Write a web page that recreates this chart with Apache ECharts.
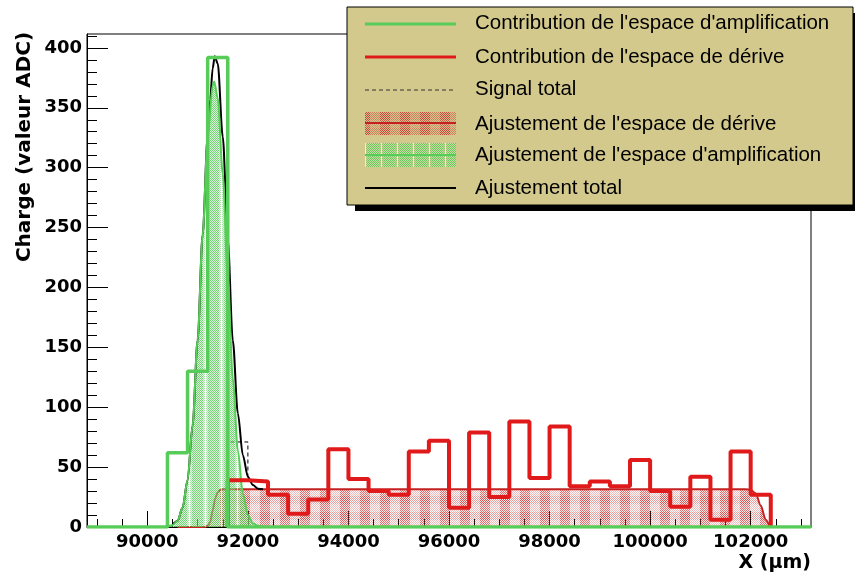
<!DOCTYPE html>
<html><head><meta charset="utf-8">
<script src="https://cdn.jsdelivr.net/npm/echarts@6/dist/echarts.min.js"></script>
<style>html,body{margin:0;padding:0;background:#fff}#c{width:855px;height:579px}</style>
</head><body><div id="c"></div><script>
// ---------- data ----------
const xRange = [88800, 103200];
const yRange = [0, 411.6];
const xTickLabels = [90000, 92000, 94000, 96000, 98000, 100000, 102000];
const yTickLabels = [0, 50, 100, 150, 200, 250, 300, 350, 400];

// amplification-gap contribution (green histogram)
const ampBinEdges = [90400, 90800, 91200, 91600];
const ampBinValues = [62, 130, 392];

// drift-gap contribution (red histogram)
const driftBinEdges = [91600, 92000, 92400, 92800, 93200, 93600, 94000, 94400, 94800, 95200, 95600, 96000, 96400, 96800,
  97200, 97600, 98000, 98400, 98800, 99200, 99600, 100000, 100400, 100800, 101200, 101600, 102000, 102400];
const driftBinValues = [39, 38, 27, 11, 23, 65, 40, 30, 27, 63, 72, 16, 79, 25,
  88, 41, 84, 34, 38, 34, 56, 30, 17, 42, 6, 63, 27];

// total signal (dashed histogram)
const totalBinEdges = [90400, 90800, 91200, 91600, 92000, 92400, 92800, 93200, 93600, 94000, 94400, 94800, 95200, 95600, 96000, 96400, 96800,
  97200, 97600, 98000, 98400, 98800, 99200, 99600, 100000, 100400, 100800, 101200, 101600, 102000, 102400];
const totalBinValues = [62, 130, 392, 71, 38, 27, 11, 23, 65, 40, 30, 27, 63, 72, 16, 79, 25,
  88, 41, 84, 34, 38, 34, 56, 30, 17, 42, 6, 63, 27];

// fits
const ampFitX = [90400, 90500, 90600, 90700, 90800, 90900, 91000, 91100, 91200, 91300, 91330, 91400, 91500, 91600, 91700, 91800, 91900, 92000, 92100, 92200, 92300];
const ampFitY = [0.4, 1.5, 5, 16, 39, 85, 156, 244, 325, 369, 372, 358, 295, 208, 124, 64, 28, 10, 3, 1, 0];

const driftFitX = [90600, 91150, 91200, 91250, 91300, 91350, 91400, 91450, 91500, 91600, 92000, 94000, 96000, 98000, 100000, 101900, 102000, 102100, 102200, 102300, 102380];
const driftFitY = [0, 0, 1, 4, 14, 24, 29, 31, 31.5, 31.5, 31.5, 31.5, 31.5, 31.5, 31.5, 31.5, 31, 28, 18, 6, 0];

const totalFitX = [90500, 90600, 90700, 90800, 90900, 91000, 91100, 91200, 91250, 91300, 91340, 91400, 91500, 91600, 91700, 91800, 91900, 92000, 92100, 92200, 92300];
const totalFitY = [2, 5, 16, 39, 85, 156, 244, 326, 357, 383, 393, 387, 326, 240, 156, 95, 60, 42, 35, 32, 31.5];

const legendLabels = [
  "Contribution de l'espace d'amplification",
  "Contribution de l'espace de dérive",
  "Signal total",
  "Ajustement de l'espace de dérive",
  "Ajustement de l'espace d'amplification",
  "Ajustement total"
];
const xTitle = 'X (μm)';
const yTitle = 'Charge (valeur ADC)';

// ---------- helpers ----------
const GREEN = '#58cc58', RED = '#e01a1a', FITRED = '#c42222';
function stepData(edges, values, start, end) {
  const d = [];
  if (start != null) d.push([start, 0]);
  for (let i = 0; i < values.length; i++) d.push([edges[i], values[i]]);
  d.push([edges[edges.length - 1], 0]);
  if (end != null) d.push([end, 0]);
  return d;
}
function zip(xs, ys) { return xs.map((x, i) => [x, ys[i]]); }
function makePattern(w, h, fn) {
  const c = document.createElement('canvas'); c.width = w; c.height = h;
  const ctx = c.getContext('2d'); const img = ctx.createImageData(w, h);
  for (let y = 0; y < h; y++) for (let x = 0; x < w; x++) {
    const p = fn(x, y), k = (y * w + x) * 4;
    img.data[k] = p[0]; img.data[k + 1] = p[1]; img.data[k + 2] = p[2]; img.data[k + 3] = p[3];
  }
  ctx.putImageData(img, 0, 0); return c;
}
const redPat = makePattern(20, 16, (x, y) => {
  const col = x < 10, row = y < 8, dot = (x + y) % 2 === 0;
  if (dot) return [195, 35, 35, 75 + (col ? 85 : 0) + (row ? 35 : 0)];
  return [235, 140, 140, 20 + (col ? 40 : 0)];
});
const greenPat = makePattern(16, 16, (x, y) => {
  const col = x < 11, dot = (x + y) % 2 === 0;
  if (x === 13) return [255, 255, 255, 170];
  if (dot) return [70, 195, 70, col ? 190 : 120];
  return [190, 240, 190, col ? 140 : 70];
});
const redFill = { image: redPat, repeat: 'repeat' };
const greenFill = { image: greenPat, repeat: 'repeat' };

const minorX = []; for (let v = 89000; v <= 103000; v += 500) minorX.push(v);
const minorY = []; for (let v = 0; v <= 410; v += 10) minorY.push(v);

const labelFont = { color: '#000', fontFamily: 'DejaVu Sans', fontWeight: 'bold', fontSize: 18 };

// ---------- legend graphic ----------
const LX = 347, LY = 7, LW = 506, LH = 198;
const rowY = [23, 57, 89, 124, 155, 188];
const sx0 = 365, sx1 = 456;
const legend = [
  { type: 'rect', shape: { x: LX + 8, y: LY + 6, width: LW + 10, height: LH }, style: { fill: '#000' }, z: 100 },
  { type: 'rect', shape: { x: LX, y: LY, width: LW, height: LH }, style: { fill: '#d3c98d', stroke: '#000', lineWidth: 1 }, z: 101 },
  { type: 'line', shape: { x1: sx0, y1: rowY[0] + 1, x2: sx1, y2: rowY[0] + 1 }, style: { stroke: GREEN, lineWidth: 3 }, z: 102 },
  { type: 'line', shape: { x1: sx0, y1: rowY[1], x2: sx1, y2: rowY[1] }, style: { stroke: RED, lineWidth: 3 }, z: 102 },
  { type: 'line', shape: { x1: sx0, y1: rowY[2] + 1, x2: sx1, y2: rowY[2] + 1 }, style: { stroke: '#333', lineWidth: 1, lineDash: [4, 3] }, z: 102 },
  { type: 'rect', shape: { x: sx0, y: 112, width: sx1 - sx0, height: 23 }, style: { fill: redFill }, z: 102 },
  { type: 'line', shape: { x1: sx0, y1: 123, x2: sx1, y2: 123 }, style: { stroke: FITRED, lineWidth: 2 }, z: 103 },
  { type: 'rect', shape: { x: sx0, y: 143, width: sx1 - sx0, height: 24 }, style: { fill: greenFill }, z: 102 },
  { type: 'line', shape: { x1: sx0, y1: 155, x2: sx1, y2: 155 }, style: { stroke: GREEN, lineWidth: 2 }, z: 103 },
  { type: 'line', shape: { x1: sx0, y1: rowY[5], x2: sx1, y2: rowY[5] }, style: { stroke: '#000', lineWidth: 2 }, z: 102 }
];
legendLabels.forEach((t, i) => legend.push({
  type: 'text', x: 475, y: rowY[i], z: 103,
  style: { text: t, fill: '#000', fontFamily: 'Liberation Sans', fontSize: 20.5, align: 'left', verticalAlign: 'middle' }
}));
legend.push({ type: 'text', x: 811, y: 563, z: 103,
  style: { text: xTitle, fill: '#000', fontFamily: 'DejaVu Sans', fontWeight: 'bold', fontSize: 19, align: 'right', verticalAlign: 'middle' } });
legend.push({ type: 'text', x: 25, y: 147, rotation: Math.PI / 2, z: 103,
  style: { text: yTitle, fill: '#000', fontFamily: 'DejaVu Sans', fontWeight: 'bold', fontSize: 20, align: 'center', verticalAlign: 'middle' } });

// ---------- chart ----------
const chart = echarts.init(document.getElementById('c'), null, { renderer: 'canvas' });
chart.setOption({
  animation: false,
  backgroundColor: '#fff',
  grid: { left: 87, top: 34, width: 724, height: 493, show: true, borderColor: '#000', borderWidth: 1, backgroundColor: 'transparent' },
  xAxis: [
    { type: 'value', min: xRange[0], max: xRange[1], position: 'bottom',
      axisLine: { show: true, onZero: false, lineStyle: { color: '#000', width: 1 } },
      axisTick: { show: true, inside: true, length: 16, customValues: xTickLabels, lineStyle: { color: '#000' } },
      axisLabel: Object.assign({ customValues: xTickLabels, formatter: v => String(v), margin: 6 }, labelFont),
      splitLine: { show: false } },
    { type: 'value', min: xRange[0], max: xRange[1], position: 'bottom',
      axisLine: { show: false },
      axisTick: { show: true, inside: true, length: 8, customValues: minorX, lineStyle: { color: '#000' } },
      axisLabel: { show: false }, splitLine: { show: false } }
  ],
  yAxis: [
    { type: 'value', min: yRange[0], max: yRange[1], position: 'left',
      axisLine: { show: true, onZero: false, lineStyle: { color: '#000', width: 1 } },
      axisTick: { show: true, inside: true, length: 21, customValues: yTickLabels, lineStyle: { color: '#000' } },
      axisLabel: Object.assign({ customValues: yTickLabels, formatter: v => String(v), margin: 5 }, labelFont),
      splitLine: { show: false } },
    { type: 'value', min: yRange[0], max: yRange[1], position: 'left',
      axisLine: { show: false },
      axisTick: { show: true, inside: true, length: 10, customValues: minorY, lineStyle: { color: '#000' } },
      axisLabel: { show: false }, splitLine: { show: false } }
  ],
  series: [
    { name: 'Signal total', type: 'line', step: 'end', data: stepData(totalBinEdges, totalBinValues, totalBinEdges[0]),
      symbol: 'none', lineStyle: { color: '#000', width: 1, type: [4, 3] }, z: 2 },
    { name: legendLabels[3], type: 'line', data: zip(driftFitX, driftFitY), smooth: 0.3, smoothMonotone: 'x',
      symbol: 'none', lineStyle: { color: FITRED, width: 2 }, areaStyle: { color: redFill, opacity: 1 }, z: 3 },
    { name: 'ampFill', type: 'line', data: zip(ampFitX, ampFitY), smooth: 0.3, smoothMonotone: 'x',
      symbol: 'none', lineStyle: { width: 0 }, areaStyle: { color: greenFill, opacity: 1 }, z: 4 },
    { name: legendLabels[5], type: 'line', data: zip(totalFitX, totalFitY), smooth: 0.3, smoothMonotone: 'x',
      symbol: 'none', lineStyle: { color: '#000', width: 2 }, z: 5 },
    { name: legendLabels[4], type: 'line', data: zip(ampFitX, ampFitY), smooth: 0.3, smoothMonotone: 'x',
      symbol: 'none', lineStyle: { color: GREEN, width: 2 }, z: 6 },
    { name: legendLabels[1], type: 'line', step: 'end', data: stepData(driftBinEdges, driftBinValues, driftBinEdges[0]),
      symbol: 'none', lineStyle: { color: RED, width: 4 }, z: 7 },
    { name: legendLabels[0], type: 'line', step: 'end', data: stepData(ampBinEdges, ampBinValues, xRange[0], xRange[1]),
      symbol: 'none', lineStyle: { color: GREEN, width: 3.5 }, z: 8 }
  ],
  graphic: { elements: legend }
});
</script></body></html>
